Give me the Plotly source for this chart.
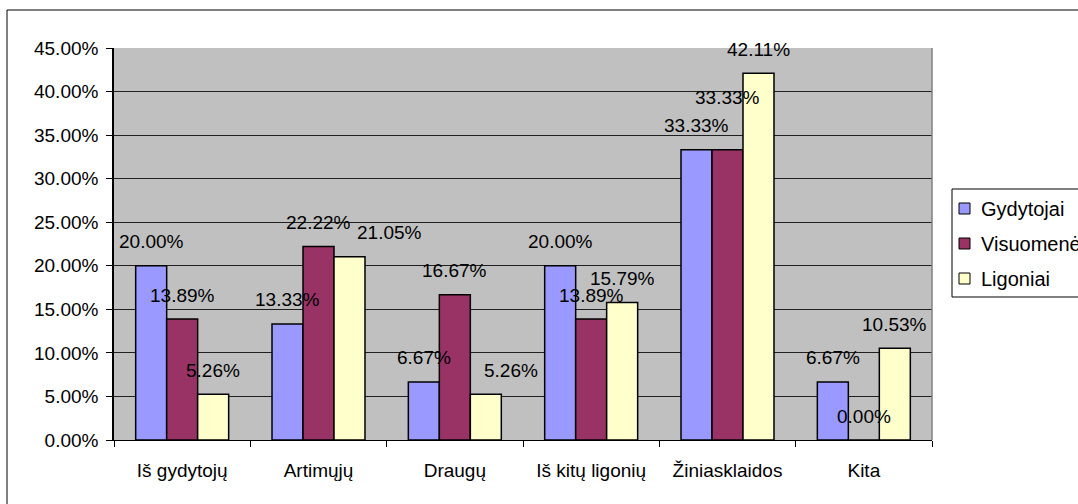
import plotly.graph_objects as go

categories = ['Iš gydytojų', 'Artimųjų', 'Draugų', 'Iš kitų ligonių', 'Žiniasklaidos', 'Kita']
gydytojai = [0.2000, 0.1333, 0.0667, 0.2000, 0.3333, 0.0667]
visuomene = [0.1389, 0.2222, 0.1667, 0.1389, 0.3333, 0.0000]
ligoniai = [0.0526, 0.2105, 0.0526, 0.1579, 0.4211, 0.1053]
series_names = ['Gydytojai', 'Visuomenė', 'Ligoniai']
colours = ['#9999FF', '#993366', '#FFFFCC']

W, H = 1078, 504
L, R, T, B = 114, 146, 48, 64
plot_w = W - L - R
plot_h = H - T - B
BARGAP = 0.318
FONT = 'Liberation Sans, Arial, sans-serif'


def px2x(px):
    return (px - L) / plot_w


def px2y(py):
    return (H - B - py) / plot_h


fig = go.Figure()
for name, vals, col in zip(series_names, [gydytojai, visuomene, ligoniai], colours):
    fig.add_trace(go.Bar(
        name=name, x=categories, y=vals,
        marker=dict(color=col, line=dict(color='black', width=1.5)),
        showlegend=False
    ))

# data labels, centred over each bar like Excel does
bar_w = plot_w / len(categories) * (1 - BARGAP) / 3
# a few labels were nudged in the original to dodge their neighbours
nudge = {(1, 2): (40, 0), (2, 2): (25, 0), (4, 1): (0, 28)}
for s, vals in enumerate([gydytojai, visuomene, ligoniai]):
    for c, v in enumerate(vals):
        dx, dy = nudge.get((c, s), (0, 0))
        fig.add_annotation(
            x=categories[c], y=v, text=f'{v * 100:.2f}%', showarrow=False,
            xshift=(s - 1) * bar_w + dx, yshift=24 + dy,
            yanchor='middle', xanchor='center',
            font=dict(family=FONT, size=19, color='black')
        )

# outer chart border
fig.add_shape(type='rect', xref='paper', yref='paper',
              x0=px2x(7), x1=px2x(1120), y0=px2y(10), y1=px2y(530),
              line=dict(color='black', width=1), fillcolor='rgba(0,0,0,0)')
# right plot border
fig.add_shape(type='line', xref='paper', yref='paper', x0=1, x1=1, y0=0, y1=1,
              line=dict(color='#808080', width=1.5))

# legend
fig.add_shape(type='rect', xref='paper', yref='paper',
              x0=px2x(952), x1=px2x(1120), y0=px2y(189), y1=px2y(297),
              line=dict(color='black', width=1), fillcolor='white')
for i, (name, col) in enumerate(zip(series_names, colours)):
    cy = 209 + i * 35
    fig.add_shape(type='rect', xref='paper', yref='paper',
                  x0=px2x(959), x1=px2x(970), y0=px2y(cy - 6), y1=px2y(cy + 5),
                  line=dict(color='black', width=1), fillcolor=col)
    fig.add_annotation(x=px2x(979), y=px2y(cy), xref='paper', yref='paper',
                       text=name, showarrow=False, xanchor='left', yanchor='middle',
                       font=dict(family=FONT, size=20, color='black'))

fig.update_layout(
    width=W, height=H,
    barmode='group', bargap=BARGAP, bargroupgap=0,
    plot_bgcolor='#C0C0C0', paper_bgcolor='white',
    margin=dict(l=L, r=R, t=T, b=B, autoexpand=False),
    font=dict(family=FONT, size=19, color='black'),
    xaxis=dict(
        showline=True, linecolor='black', linewidth=1,
        ticks='outside', ticklen=6, tickcolor='black', tickson='boundaries',
        ticklabelstandoff=13, showgrid=False
    ),
    yaxis=dict(
        range=[0, 0.45], dtick=0.05, tickformat='.2%',
        showline=True, linecolor='black', linewidth=1.5,
        ticks='outside', ticklen=6, tickcolor='black',
        ticklabelstandoff=4,
        showgrid=True, gridcolor='#202020', gridwidth=1, zeroline=False
    )
)

fig.write_html('out.html', config={'displayModeBar': False},
               post_script="document.body.style.margin='0';")
